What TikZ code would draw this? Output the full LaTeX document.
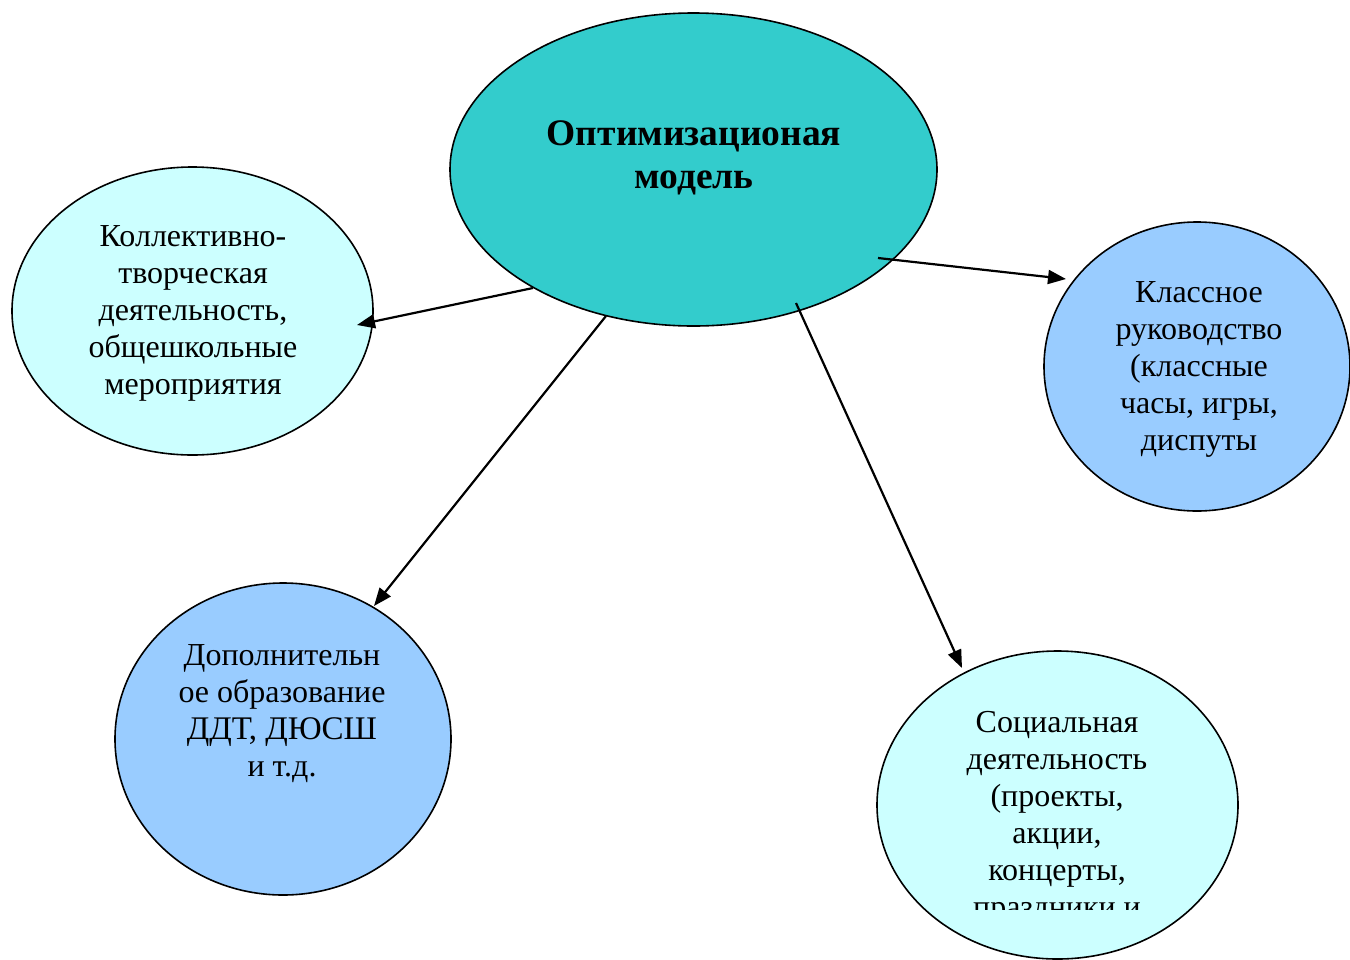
\documentclass[tikz,border=0pt]{standalone}
\usepackage{fontspec}
\setmainfont{Liberation Serif}
\usetikzlibrary{shapes.geometric,arrows.meta}
\definecolor{tealfill}{HTML}{33CCCC}
\definecolor{paleblue}{HTML}{99CCFF}
\definecolor{palecyan}{HTML}{CCFFFF}
\tikzset{
	bubble/.style={ellipse,draw=black,line width=1.6pt,inner sep=0pt},
	bubbletext/.style={align=center,inner sep=0pt,font=\fontsize{32}{37}\selectfont},
	link/.style={line width=2.2pt,-{Triangle[length=18pt,width=14pt]}}
}
\begin{document}
\begin{tikzpicture}[x=1pt,y=-1pt]
\useasboundingbox (0,0) rectangle (1350,959);
\clip (0,0) rectangle (1350,959);
% ellipses
\node[bubble,fill=tealfill,minimum width=487pt,minimum height=313pt] (model) at (693.5,169.5) {};
\node[bubble,fill=palecyan,minimum width=361pt,minimum height=288pt] (ktd) at (192.5,311) {};
\node[bubble,fill=paleblue,minimum width=306pt,minimum height=289pt] (klass) at (1197,366.5) {};
\node[bubble,fill=paleblue,minimum width=336pt,minimum height=312pt] (dop) at (283,739) {};
\node[bubble,fill=palecyan,minimum width=361pt,minimum height=308pt] (soc) at (1057.5,805) {};
% labels
\node[bubbletext,font=\fontsize{37.5}{43}\selectfont\bfseries] (model-text) at (694,158) {Оптимизационая\\модель};
\node[bubbletext] (ktd-text) at (193,313) {Коллективно-\\творческая\\деятельность,\\общешкольные\\мероприятия};
\node[bubbletext] (klass-text) at (1199,369) {Классное\\руководство\\(классные\\часы, игры,\\диспуты};
\node[bubbletext] (dop-text) at (282,714) {Дополнительн\\ое образование\\{\fontsize{33}{38}\selectfont ДДТ, ДЮСШ}\\и т.д.};
\begin{scope}
\clip (877,640) rectangle (1240,909);
\node[bubbletext] (soc-text) at (1057,818) {Социальная\\деятельность\\(проекты,\\акции,\\концерты,\\праздники и};
\end{scope}
% arrow ends
\coordinate (a1) at (533,288);
\coordinate (b1) at (357,325);
\coordinate (a2) at (606,316);
\coordinate (b2) at (374,606);
\coordinate (a3) at (878,258);
\coordinate (b3) at (1066,279);
\coordinate (a4) at (796,303);
\coordinate (b4) at (962,668);
% arrows
\draw[link] (a1) -- (b1);
\draw[link] (a2) -- (b2);
\draw[link] (a3) -- (b3);
\draw[link] (a4) -- (b4);
\end{tikzpicture}
\end{document}
